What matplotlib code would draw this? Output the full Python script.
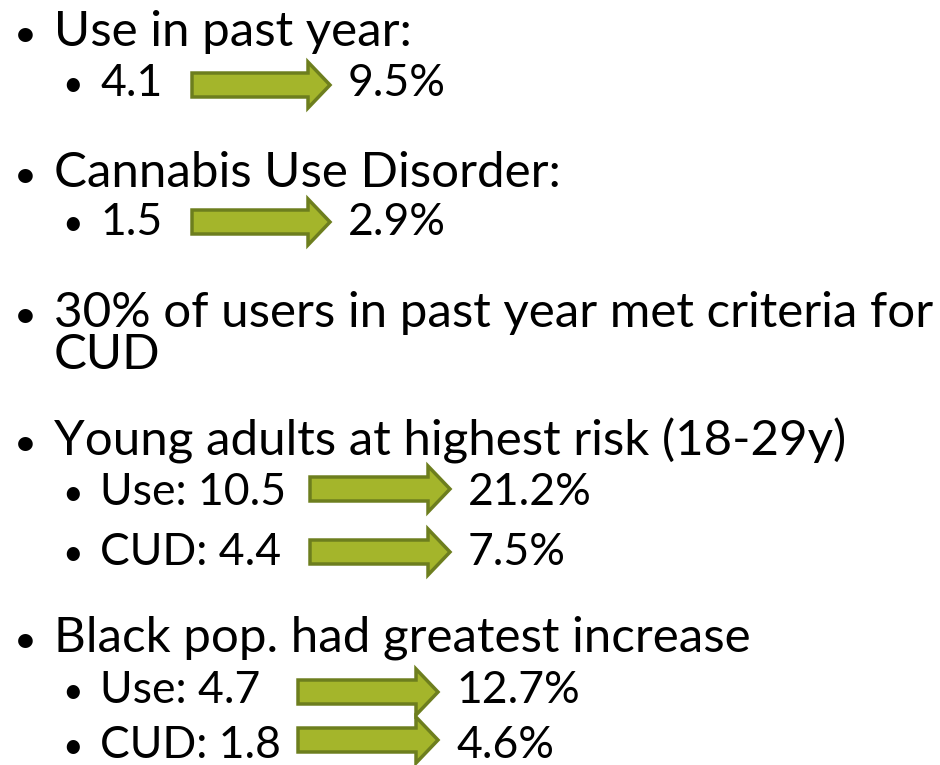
import matplotlib
matplotlib.use("Agg")
import matplotlib.pyplot as plt
from matplotlib.patches import Polygon

# ---- content ----
main_items = ["Use in past year:", "Cannabis Use Disorder:",
              "30% of users in past year met criteria for",
              "Young adults at highest risk (18-29y)",
              "Black pop. had greatest increase"]
main_baselines = [46, 187, 327, 455, 652]
continuation = ["CUD"]
continuation_baselines = [369]

sub_labels = ["4.1", "1.5", "Use: 10.5", "CUD: 4.4", "Use: 4.7", "CUD: 1.8"]
sub_values = ["9.5%", "2.9%", "21.2%", "7.5%", "12.7%", "4.6%"]
sub_baselines = [96, 235, 505, 565, 703, 758]
arrow_x = [(192, 330), (192, 330), (310, 450), (310, 450), (298, 438), (298, 438)]
arrow_y = [85, 222, 489, 552, 692, 740]
value_x = [348, 348, 468, 468, 456, 456]

FONT = "Lato"
MAIN_SIZE = 35.5
SUB_SIZE = 32
fill = "#a4b52b"
edge = "#6d7e1e"

fig = plt.figure(figsize=(9.4, 7.65), dpi=100)
ax = fig.add_axes([0, 0, 1, 1])
ax.set_xlim(0, 940)
ax.set_ylim(765, 0)
ax.axis("off")

for txt, yb in zip(main_items, main_baselines):
    ax.text(14, yb, "•", fontsize=MAIN_SIZE * 0.8, family=FONT, va="baseline", ha="left")
    ax.text(54, yb, txt, fontsize=MAIN_SIZE, family=FONT, va="baseline", ha="left")
for txt, yb in zip(continuation, continuation_baselines):
    ax.text(54, yb, txt, fontsize=MAIN_SIZE, family=FONT, va="baseline", ha="left")

def draw_arrow(x0, x1, yc, body=24, head=46, head_len=22):
    pts = [(x0, yc - body / 2), (x1 - head_len, yc - body / 2), (x1 - head_len, yc - head / 2),
           (x1, yc), (x1 - head_len, yc + head / 2), (x1 - head_len, yc + body / 2),
           (x0, yc + body / 2)]
    ax.add_patch(Polygon(pts, closed=True, facecolor=fill, edgecolor=edge, linewidth=2.5,
                         joinstyle="miter"))

for lab, val, yb, (x0, x1), yc, vx in zip(sub_labels, sub_values, sub_baselines,
                                          arrow_x, arrow_y, value_x):
    ax.text(62, yb, "•", fontsize=SUB_SIZE * 0.8, family=FONT, va="baseline", ha="left")
    ax.text(100, yb, lab, fontsize=SUB_SIZE, family=FONT, va="baseline", ha="left")
    draw_arrow(x0, x1, yc)
    ax.text(vx, yb, val, fontsize=SUB_SIZE, family=FONT, va="baseline", ha="left")

fig.savefig("out.png", dpi=100)
